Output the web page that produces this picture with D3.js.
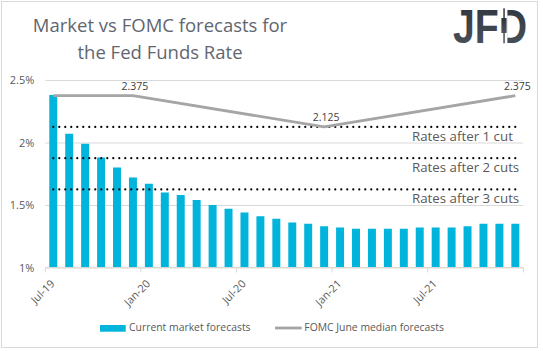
<!DOCTYPE html>
<html>
<head>
<meta charset="utf-8">
<script src="https://cdn.jsdelivr.net/npm/d3@7"></script>
<style>
  html, body { margin: 0; padding: 0; background: #fff; }
  svg { display: block; font-family: "Open Sans", sans-serif; }
</style>
</head>
<body>
<div id="chart"></div>
<script>
// chart data
const MONTHS = [
  "Jul-19", "Aug-19", "Sep-19", "Oct-19", "Nov-19", "Dec-19",
  "Jan-20", "Feb-20", "Mar-20", "Apr-20", "May-20", "Jun-20",
  "Jul-20", "Aug-20", "Sep-20", "Oct-20", "Nov-20", "Dec-20",
  "Jan-21", "Feb-21", "Mar-21", "Apr-21", "May-21", "Jun-21",
  "Jul-21", "Aug-21", "Sep-21", "Oct-21", "Nov-21", "Dec-21",
];
const MARKET = [
  2.38, 2.07, 1.99, 1.88, 1.80, 1.72,
  1.67, 1.60, 1.58, 1.54, 1.50, 1.47,
  1.44, 1.41, 1.39, 1.36, 1.35, 1.33,
  1.32, 1.31, 1.31, 1.31, 1.31, 1.32,
  1.32, 1.32, 1.33, 1.35, 1.35, 1.35,
];
const FOMC_MONTHS = ["Jul-19", "Dec-19", "Dec-20", "Dec-21"];
const FOMC_VALUES = [2.375, 2.375, 2.125, 2.375];
const FOMC_LABELED = [false, true, true, true];
const CUT_VALUES = [2.125, 1.875, 1.625];
const CUT_LABELS = ["Rates after 1 cut", "Rates after 2 cuts", "Rates after 3 cuts"];
const X_TICKS = ["Jul-19", "Jan-20", "Jul-20", "Jan-21", "Jul-21"];
const Y_TICKS = [1, 1.5, 2, 2.5];
const TITLE = ["Market vs FOMC forecasts for", "the Fed Funds Rate"];
const LEGEND = ["Current market forecasts", "FOMC June median forecasts"];

const W = 543, H = 351;
const PLOT = { left: 45.3, right: 523.3, top: 80, bottom: 267.5 };
const BAR_COLOR = "#00b4db";
const LINE_COLOR = "#a5a5a5";
const TEXT_COLOR = "#595959";
const GRID_COLOR = "#d9d9d9";

const svg = d3.select("#chart").append("svg")
  .attr("width", W).attr("height", H);

// outer frame
svg.append("rect")
  .attr("x", 1.5).attr("y", 1.5)
  .attr("width", 536).attr("height", 346)
  .attr("fill", "#fff").attr("stroke", GRID_COLOR);

// title
svg.append("text")
  .attr("text-anchor", "middle")
  .attr("fill", "#5f6670")
  .attr("font-size", "18.5px")
  .selectAll("tspan")
  .data(TITLE)
  .join("tspan")
  .attr("x", 160)
  .attr("y", (_, i) => 32 + i * 27)
  .text((d) => d);

// logo
const grad = svg.append("defs").append("linearGradient")
  .attr("id", "logoGrad").attr("x1", 0).attr("y1", 0).attr("x2", 0).attr("y2", 1);
grad.append("stop").attr("offset", 0).attr("stop-color", "#2f343b");
grad.append("stop").attr("offset", 1).attr("stop-color", "#4d545d");
const logo = svg.append("g").attr("transform", "translate(453,43.3) scale(0.8,1)");
logo.append("text")
  .attr("font-family", "Liberation Sans, Arial, sans-serif")
  .attr("font-weight", "bold")
  .attr("font-size", "49px")
  .attr("fill", "url(#logoGrad)")
  .text("JFD");
// candle in the stem of the D
svg.append("rect")
  .attr("x", 500.8).attr("y", 6).attr("width", 6.6).attr("height", 40)
  .attr("fill", "#fff");
svg.append("rect")
  .attr("x", 503.3).attr("y", 8.3).attr("width", 1.5).attr("height", 35)
  .attr("fill", "url(#logoGrad)");
svg.append("rect")
  .attr("x", 501.4).attr("y", 18).attr("width", 5.2).attr("height", 15)
  .attr("fill", "url(#logoGrad)");

// scales
const x = d3.scaleBand()
  .domain(MONTHS)
  .range([PLOT.left, PLOT.right])
  .paddingInner(0.5)
  .paddingOuter(0.25);
const y = d3.scaleLinear()
  .domain([1, 2.5])
  .range([PLOT.bottom, PLOT.top]);
const cx = (m) => x(m) + x.bandwidth() / 2;
const tickX = (m) => x(m) - x.step() * 0.25;

// gridlines + y labels
const yAxis = d3.axisLeft(y)
  .tickValues(Y_TICKS)
  .tickSize(-(PLOT.right - PLOT.left))
  .tickPadding(11)
  .tickFormat((d) => d + "%");
svg.append("g")
  .attr("transform", `translate(${PLOT.left},0)`)
  .call(yAxis)
  .call((g) => g.select(".domain").remove())
  .call((g) => g.selectAll(".tick line").attr("stroke", GRID_COLOR))
  .call((g) => g.selectAll(".tick text")
    .attr("fill", TEXT_COLOR)
    .attr("font-size", "11px")
    .attr("font-family", "Open Sans, sans-serif"));

// bars
svg.append("g")
  .selectAll("rect")
  .data(MONTHS)
  .join("rect")
  .attr("x", (d) => x(d))
  .attr("width", x.bandwidth())
  .attr("y", (_, i) => y(MARKET[i]))
  .attr("height", (_, i) => y(1) - y(MARKET[i]))
  .attr("fill", BAR_COLOR);

// x axis line with ticks at the month boundaries
const xAxisG = svg.append("g");
xAxisG.append("line")
  .attr("x1", PLOT.left).attr("x2", PLOT.right)
  .attr("y1", PLOT.bottom).attr("y2", PLOT.bottom)
  .attr("stroke", GRID_COLOR);
const tickPos = X_TICKS.map(tickX).concat([PLOT.right]);
xAxisG.selectAll("line.tick")
  .data(tickPos)
  .join("line")
  .attr("class", "tick")
  .attr("x1", (d) => d).attr("x2", (d) => d)
  .attr("y1", PLOT.bottom).attr("y2", PLOT.bottom + 5)
  .attr("stroke", GRID_COLOR);
xAxisG.selectAll("text")
  .data(X_TICKS)
  .join("text")
  .attr("text-anchor", "end")
  .attr("fill", TEXT_COLOR)
  .attr("font-size", "10.8px")
  .attr("transform", (d) => `translate(${tickX(d) + 10},${PLOT.bottom + 17}) rotate(-45)`)
  .text((d) => d);

// dotted cut lines
const first = MONTHS[0], last = MONTHS[MONTHS.length - 1];
svg.append("g")
  .selectAll("line")
  .data(CUT_VALUES)
  .join("line")
  .attr("x1", cx(first)).attr("x2", cx(last))
  .attr("y1", (d) => y(d)).attr("y2", (d) => y(d))
  .attr("stroke", "#000")
  .attr("stroke-width", 2.2)
  .attr("stroke-linecap", "round")
  .attr("stroke-dasharray", "0 6");
svg.append("g")
  .selectAll("text")
  .data(CUT_LABELS)
  .join("text")
  .attr("x", 412)
  .attr("y", (_, i) => y(CUT_VALUES[i]) + 14)
  .attr("fill", TEXT_COLOR)
  .attr("font-size", "13.3px")
  .text((d) => d);

// FOMC line
const line = d3.line()
  .x((d) => cx(d))
  .y((_, i) => y(FOMC_VALUES[i]));
svg.append("path")
  .datum(FOMC_MONTHS)
  .attr("d", line)
  .attr("fill", "none")
  .attr("stroke", LINE_COLOR)
  .attr("stroke-width", 2.8)
  .attr("stroke-linejoin", "round");
svg.append("g")
  .selectAll("text")
  .data(FOMC_MONTHS.filter((_, i) => FOMC_LABELED[i]))
  .join("text")
  .attr("x", (d) => cx(d) + 2)
  .attr("y", (d) => y(FOMC_VALUES[FOMC_MONTHS.indexOf(d, 1)]) - 5.5)
  .attr("text-anchor", "middle")
  .attr("fill", "#404040")
  .attr("font-size", "10.5px")
  .text((d) => FOMC_VALUES[FOMC_MONTHS.indexOf(d, 1)]);

// legend
const legend = svg.append("g").attr("font-size", "10.4px").attr("fill", TEXT_COLOR);
legend.append("rect")
  .attr("x", 100).attr("y", 325)
  .attr("width", 25.7).attr("height", 6.7)
  .attr("fill", BAR_COLOR);
legend.append("text").attr("x", 129).attr("y", 330.7).text(LEGEND[0]);
legend.append("line")
  .attr("x1", 275).attr("x2", 301.7)
  .attr("y1", 328).attr("y2", 328)
  .attr("stroke", LINE_COLOR).attr("stroke-width", 2.8);
legend.append("text").attr("x", 304.3).attr("y", 330.7).text(LEGEND[1]);
</script>
</body>
</html>
